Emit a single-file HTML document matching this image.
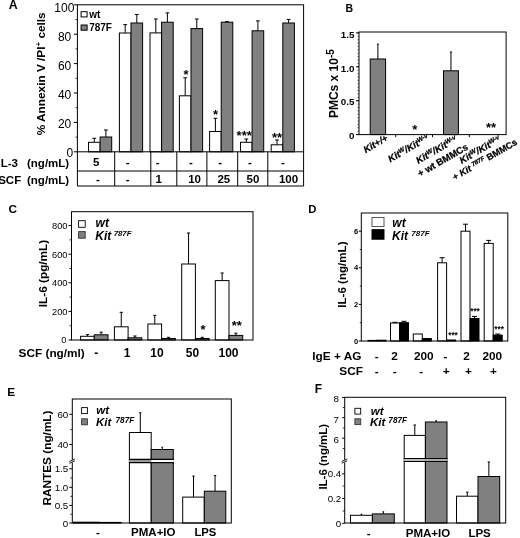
<!DOCTYPE html>
<html><head><meta charset="utf-8"><title>Figure</title>
<style>
html,body{margin:0;padding:0;background:#fff;}
body{width:520px;height:538px;overflow:hidden;font-family:"Liberation Sans",sans-serif;}
svg{display:block;will-change:transform;}
svg text{font-family:"Liberation Sans",sans-serif;}
</style></head><body>
<svg width="520" height="538" viewBox="0 0 520 538" shape-rendering="auto">
<rect x="0" y="0" width="520" height="538" fill="#fff"/>
<line x1="94.30" y1="138.30" x2="94.30" y2="142.30" stroke="#000" stroke-width="1"/>
<line x1="92.40" y1="138.30" x2="96.20" y2="138.30" stroke="#000" stroke-width="1"/>
<rect x="88.50" y="142.30" width="11.60" height="9.50" fill="#fff" stroke="#000" stroke-width="1"/>
<line x1="105.90" y1="130.00" x2="105.90" y2="137.00" stroke="#000" stroke-width="1"/>
<line x1="104.00" y1="130.00" x2="107.80" y2="130.00" stroke="#000" stroke-width="1"/>
<rect x="100.10" y="137.00" width="11.60" height="14.80" fill="#808080" stroke="#000" stroke-width="1"/>
<line x1="125.20" y1="24.60" x2="125.20" y2="33.00" stroke="#000" stroke-width="1"/>
<line x1="123.30" y1="24.60" x2="127.10" y2="24.60" stroke="#000" stroke-width="1"/>
<rect x="119.40" y="33.00" width="11.60" height="118.80" fill="#fff" stroke="#000" stroke-width="1"/>
<line x1="136.80" y1="14.50" x2="136.80" y2="23.00" stroke="#000" stroke-width="1"/>
<line x1="134.90" y1="14.50" x2="138.70" y2="14.50" stroke="#000" stroke-width="1"/>
<rect x="131.00" y="23.00" width="11.60" height="128.80" fill="#808080" stroke="#000" stroke-width="1"/>
<line x1="155.80" y1="19.00" x2="155.80" y2="32.90" stroke="#000" stroke-width="1"/>
<line x1="153.90" y1="19.00" x2="157.70" y2="19.00" stroke="#000" stroke-width="1"/>
<rect x="150.00" y="32.90" width="11.60" height="118.90" fill="#fff" stroke="#000" stroke-width="1"/>
<line x1="167.40" y1="12.90" x2="167.40" y2="22.20" stroke="#000" stroke-width="1"/>
<line x1="165.50" y1="12.90" x2="169.30" y2="12.90" stroke="#000" stroke-width="1"/>
<rect x="161.60" y="22.20" width="11.60" height="129.60" fill="#808080" stroke="#000" stroke-width="1"/>
<line x1="185.20" y1="77.80" x2="185.20" y2="95.80" stroke="#000" stroke-width="1"/>
<line x1="183.30" y1="77.80" x2="187.10" y2="77.80" stroke="#000" stroke-width="1"/>
<rect x="179.40" y="95.80" width="11.60" height="56.00" fill="#fff" stroke="#000" stroke-width="1"/>
<line x1="196.80" y1="19.00" x2="196.80" y2="28.60" stroke="#000" stroke-width="1"/>
<line x1="194.90" y1="19.00" x2="198.70" y2="19.00" stroke="#000" stroke-width="1"/>
<rect x="191.00" y="28.60" width="11.60" height="123.20" fill="#808080" stroke="#000" stroke-width="1"/>
<line x1="215.40" y1="118.30" x2="215.40" y2="131.50" stroke="#000" stroke-width="1"/>
<line x1="213.50" y1="118.30" x2="217.30" y2="118.30" stroke="#000" stroke-width="1"/>
<rect x="209.60" y="131.50" width="11.60" height="20.30" fill="#fff" stroke="#000" stroke-width="1"/>
<line x1="227.00" y1="21.50" x2="227.00" y2="22.20" stroke="#000" stroke-width="1"/>
<line x1="225.10" y1="21.50" x2="228.90" y2="21.50" stroke="#000" stroke-width="1"/>
<rect x="221.20" y="22.20" width="11.60" height="129.60" fill="#808080" stroke="#000" stroke-width="1"/>
<line x1="246.30" y1="139.00" x2="246.30" y2="142.30" stroke="#000" stroke-width="1"/>
<line x1="244.40" y1="139.00" x2="248.20" y2="139.00" stroke="#000" stroke-width="1"/>
<rect x="240.50" y="142.30" width="11.60" height="9.50" fill="#fff" stroke="#000" stroke-width="1"/>
<line x1="257.90" y1="20.90" x2="257.90" y2="30.80" stroke="#000" stroke-width="1"/>
<line x1="256.00" y1="20.90" x2="259.80" y2="20.90" stroke="#000" stroke-width="1"/>
<rect x="252.10" y="30.80" width="11.60" height="121.00" fill="#808080" stroke="#000" stroke-width="1"/>
<line x1="277.00" y1="140.00" x2="277.00" y2="144.80" stroke="#000" stroke-width="1"/>
<line x1="275.10" y1="140.00" x2="278.90" y2="140.00" stroke="#000" stroke-width="1"/>
<rect x="271.20" y="144.80" width="11.60" height="7.00" fill="#fff" stroke="#000" stroke-width="1"/>
<line x1="288.60" y1="19.40" x2="288.60" y2="23.00" stroke="#000" stroke-width="1"/>
<line x1="286.70" y1="19.40" x2="290.50" y2="19.40" stroke="#000" stroke-width="1"/>
<rect x="282.80" y="23.00" width="11.60" height="128.80" fill="#808080" stroke="#000" stroke-width="1"/>
<rect x="77.40" y="4.80" width="226.20" height="147.00" fill="none" stroke="#000" stroke-width="1"/>
<line x1="73.90" y1="151.80" x2="77.40" y2="151.80" stroke="#000" stroke-width="1"/>
<text x="73.20" y="156.70" font-size="12" text-anchor="end" fill="#000" >0</text>
<line x1="73.90" y1="122.40" x2="77.40" y2="122.40" stroke="#000" stroke-width="1"/>
<text x="71.30" y="127.66" font-size="12" text-anchor="end" fill="#000" >20</text>
<line x1="73.90" y1="93.00" x2="77.40" y2="93.00" stroke="#000" stroke-width="1"/>
<text x="71.30" y="98.62" font-size="12" text-anchor="end" fill="#000" >40</text>
<line x1="73.90" y1="63.60" x2="77.40" y2="63.60" stroke="#000" stroke-width="1"/>
<text x="71.30" y="69.58" font-size="12" text-anchor="end" fill="#000" >60</text>
<line x1="73.90" y1="34.20" x2="77.40" y2="34.20" stroke="#000" stroke-width="1"/>
<text x="71.30" y="40.54" font-size="12" text-anchor="end" fill="#000" >80</text>
<line x1="73.90" y1="4.80" x2="77.40" y2="4.80" stroke="#000" stroke-width="1"/>
<text x="74.40" y="11.50" font-size="12" text-anchor="end" fill="#000" >100</text>
<line x1="75.60" y1="137.10" x2="77.40" y2="137.10" stroke="#000" stroke-width="0.8"/>
<line x1="75.60" y1="107.70" x2="77.40" y2="107.70" stroke="#000" stroke-width="0.8"/>
<line x1="75.60" y1="78.30" x2="77.40" y2="78.30" stroke="#000" stroke-width="0.8"/>
<line x1="75.60" y1="48.90" x2="77.40" y2="48.90" stroke="#000" stroke-width="0.8"/>
<line x1="75.60" y1="19.50" x2="77.40" y2="19.50" stroke="#000" stroke-width="0.8"/>
<rect x="81.10" y="11.70" width="6.00" height="5.20" fill="#fff" stroke="#000" stroke-width="1"/>
<text x="89.20" y="17.70" font-size="10" font-weight="bold" text-anchor="start" fill="#000" >wt</text>
<rect x="81.10" y="25.00" width="6.00" height="5.20" fill="#808080" stroke="#000" stroke-width="1"/>
<text x="89.20" y="31.10" font-size="10" font-weight="bold" text-anchor="start" fill="#000" >787F</text>
<text x="45.30" y="73.80" font-size="11.8" font-weight="bold" text-anchor="middle" fill="#000" transform="rotate(-90 45.30 73.80)" >% Annexin V /PI<tspan font-size="8" dy="-3.8">+</tspan><tspan dy="3.8"> cells</tspan></text>
<text x="186.00" y="79.00" font-size="13" font-weight="bold" text-anchor="middle" fill="#000" >*</text>
<text x="215.50" y="118.50" font-size="13" font-weight="bold" text-anchor="middle" fill="#000" >*</text>
<text x="244.20" y="140.00" font-size="13" font-weight="bold" text-anchor="middle" fill="#000" >***</text>
<text x="277.00" y="141.80" font-size="13" font-weight="bold" text-anchor="middle" fill="#000" >**</text>
<line x1="77.40" y1="151.80" x2="77.40" y2="186.00" stroke="#000" stroke-width="1"/>
<line x1="114.70" y1="151.80" x2="114.70" y2="186.00" stroke="#000" stroke-width="1"/>
<line x1="150.80" y1="151.80" x2="150.80" y2="186.00" stroke="#000" stroke-width="1"/>
<line x1="176.80" y1="151.80" x2="176.80" y2="186.00" stroke="#000" stroke-width="1"/>
<line x1="206.90" y1="151.80" x2="206.90" y2="186.00" stroke="#000" stroke-width="1"/>
<line x1="237.70" y1="151.80" x2="237.70" y2="186.00" stroke="#000" stroke-width="1"/>
<line x1="267.80" y1="151.80" x2="267.80" y2="186.00" stroke="#000" stroke-width="1"/>
<line x1="303.60" y1="151.80" x2="303.60" y2="186.00" stroke="#000" stroke-width="1"/>
<line x1="77.40" y1="171.00" x2="303.60" y2="171.00" stroke="#000" stroke-width="1"/>
<line x1="77.40" y1="186.00" x2="303.60" y2="186.00" stroke="#000" stroke-width="1"/>
<text x="-2.50" y="166.60" font-size="11.5" font-weight="bold" text-anchor="start" fill="#000" >IL-3</text>
<text x="27.00" y="166.60" font-size="11.5" font-weight="bold" text-anchor="start" fill="#000" >(ng/mL)</text>
<text x="-1.80" y="183.50" font-size="11.5" font-weight="bold" text-anchor="start" fill="#000" >SCF</text>
<text x="27.00" y="183.50" font-size="11.5" font-weight="bold" text-anchor="start" fill="#000" >(ng/mL)</text>
<text x="96.30" y="166.30" font-size="11.5" font-weight="bold" text-anchor="middle" fill="#000" >5</text>
<text x="127.70" y="166.30" font-size="11.5" font-weight="bold" text-anchor="middle" fill="#000" >-</text>
<text x="157.70" y="166.30" font-size="11.5" font-weight="bold" text-anchor="middle" fill="#000" >-</text>
<text x="191.00" y="166.30" font-size="11.5" font-weight="bold" text-anchor="middle" fill="#000" >-</text>
<text x="220.20" y="166.30" font-size="11.5" font-weight="bold" text-anchor="middle" fill="#000" >-</text>
<text x="250.00" y="166.30" font-size="11.5" font-weight="bold" text-anchor="middle" fill="#000" >-</text>
<text x="283.00" y="166.30" font-size="11.5" font-weight="bold" text-anchor="middle" fill="#000" >-</text>
<text x="97.80" y="183.20" font-size="11.5" font-weight="bold" text-anchor="middle" fill="#000" >-</text>
<text x="127.70" y="183.20" font-size="11.5" font-weight="bold" text-anchor="middle" fill="#000" >-</text>
<text x="158.60" y="183.20" font-size="11.5" font-weight="bold" text-anchor="middle" fill="#000" >1</text>
<text x="194.60" y="183.20" font-size="11.5" font-weight="bold" text-anchor="middle" fill="#000" >10</text>
<text x="223.80" y="183.20" font-size="11.5" font-weight="bold" text-anchor="middle" fill="#000" >25</text>
<text x="253.00" y="183.20" font-size="11.5" font-weight="bold" text-anchor="middle" fill="#000" >50</text>
<text x="288.50" y="183.20" font-size="11.5" font-weight="bold" text-anchor="middle" fill="#000" >100</text>
<text x="8.80" y="9.30" font-size="12.3" font-weight="bold" text-anchor="start" fill="#000" >A</text>
<line x1="377.90" y1="44.20" x2="377.90" y2="59.00" stroke="#000" stroke-width="1"/>
<line x1="376.90" y1="44.20" x2="378.90" y2="44.20" stroke="#000" stroke-width="1"/>
<rect x="370.20" y="59.00" width="15.40" height="75.60" fill="#808080" stroke="#000" stroke-width="1"/>
<line x1="450.95" y1="52.00" x2="450.95" y2="70.80" stroke="#000" stroke-width="1"/>
<line x1="449.95" y1="52.00" x2="451.95" y2="52.00" stroke="#000" stroke-width="1"/>
<rect x="443.50" y="70.80" width="14.90" height="63.80" fill="#808080" stroke="#000" stroke-width="1"/>
<rect x="359.00" y="32.00" width="147.10" height="102.60" fill="none" stroke="#000" stroke-width="1"/>
<line x1="356.00" y1="134.60" x2="359.00" y2="134.60" stroke="#000" stroke-width="1"/>
<text x="354.40" y="139.30" font-size="9.8" font-weight="bold" text-anchor="end" fill="#000" >0</text>
<line x1="356.00" y1="100.70" x2="359.00" y2="100.70" stroke="#000" stroke-width="1"/>
<text x="354.40" y="105.40" font-size="9.8" font-weight="bold" text-anchor="end" fill="#000" >0.5</text>
<line x1="356.00" y1="66.80" x2="359.00" y2="66.80" stroke="#000" stroke-width="1"/>
<text x="354.40" y="71.50" font-size="9.8" font-weight="bold" text-anchor="end" fill="#000" >1.0</text>
<line x1="356.00" y1="32.90" x2="359.00" y2="32.90" stroke="#000" stroke-width="1"/>
<text x="354.40" y="37.60" font-size="9.8" font-weight="bold" text-anchor="end" fill="#000" >1.5</text>
<line x1="357.50" y1="134.60" x2="359.00" y2="134.60" stroke="#000" stroke-width="0.6"/>
<line x1="357.50" y1="131.21" x2="359.00" y2="131.21" stroke="#000" stroke-width="0.6"/>
<line x1="357.50" y1="127.82" x2="359.00" y2="127.82" stroke="#000" stroke-width="0.6"/>
<line x1="357.50" y1="124.43" x2="359.00" y2="124.43" stroke="#000" stroke-width="0.6"/>
<line x1="357.50" y1="121.04" x2="359.00" y2="121.04" stroke="#000" stroke-width="0.6"/>
<line x1="357.50" y1="117.65" x2="359.00" y2="117.65" stroke="#000" stroke-width="0.6"/>
<line x1="357.50" y1="114.26" x2="359.00" y2="114.26" stroke="#000" stroke-width="0.6"/>
<line x1="357.50" y1="110.87" x2="359.00" y2="110.87" stroke="#000" stroke-width="0.6"/>
<line x1="357.50" y1="107.48" x2="359.00" y2="107.48" stroke="#000" stroke-width="0.6"/>
<line x1="357.50" y1="104.09" x2="359.00" y2="104.09" stroke="#000" stroke-width="0.6"/>
<line x1="357.50" y1="100.70" x2="359.00" y2="100.70" stroke="#000" stroke-width="0.6"/>
<line x1="357.50" y1="97.31" x2="359.00" y2="97.31" stroke="#000" stroke-width="0.6"/>
<line x1="357.50" y1="93.92" x2="359.00" y2="93.92" stroke="#000" stroke-width="0.6"/>
<line x1="357.50" y1="90.53" x2="359.00" y2="90.53" stroke="#000" stroke-width="0.6"/>
<line x1="357.50" y1="87.14" x2="359.00" y2="87.14" stroke="#000" stroke-width="0.6"/>
<line x1="357.50" y1="83.75" x2="359.00" y2="83.75" stroke="#000" stroke-width="0.6"/>
<line x1="357.50" y1="80.36" x2="359.00" y2="80.36" stroke="#000" stroke-width="0.6"/>
<line x1="357.50" y1="76.97" x2="359.00" y2="76.97" stroke="#000" stroke-width="0.6"/>
<line x1="357.50" y1="73.58" x2="359.00" y2="73.58" stroke="#000" stroke-width="0.6"/>
<line x1="357.50" y1="70.19" x2="359.00" y2="70.19" stroke="#000" stroke-width="0.6"/>
<line x1="357.50" y1="66.80" x2="359.00" y2="66.80" stroke="#000" stroke-width="0.6"/>
<line x1="357.50" y1="63.41" x2="359.00" y2="63.41" stroke="#000" stroke-width="0.6"/>
<line x1="357.50" y1="60.02" x2="359.00" y2="60.02" stroke="#000" stroke-width="0.6"/>
<line x1="357.50" y1="56.63" x2="359.00" y2="56.63" stroke="#000" stroke-width="0.6"/>
<line x1="357.50" y1="53.24" x2="359.00" y2="53.24" stroke="#000" stroke-width="0.6"/>
<line x1="357.50" y1="49.85" x2="359.00" y2="49.85" stroke="#000" stroke-width="0.6"/>
<line x1="357.50" y1="46.46" x2="359.00" y2="46.46" stroke="#000" stroke-width="0.6"/>
<line x1="357.50" y1="43.07" x2="359.00" y2="43.07" stroke="#000" stroke-width="0.6"/>
<line x1="357.50" y1="39.68" x2="359.00" y2="39.68" stroke="#000" stroke-width="0.6"/>
<line x1="357.50" y1="36.29" x2="359.00" y2="36.29" stroke="#000" stroke-width="0.6"/>
<line x1="357.50" y1="32.90" x2="359.00" y2="32.90" stroke="#000" stroke-width="0.6"/>
<line x1="395.70" y1="134.60" x2="395.70" y2="137.10" stroke="#000" stroke-width="1"/>
<line x1="432.50" y1="134.60" x2="432.50" y2="137.10" stroke="#000" stroke-width="1"/>
<line x1="469.30" y1="134.60" x2="469.30" y2="137.10" stroke="#000" stroke-width="1"/>
<text x="337.80" y="83.60" font-size="12" font-weight="bold" text-anchor="middle" fill="#000" transform="rotate(-90 337.80 83.60)" >PMCs x 10<tspan font-size="10" dy="-4">-5</tspan></text>
<text x="414.90" y="133.80" font-size="13" font-weight="bold" text-anchor="middle" fill="#000" >*</text>
<text x="491.00" y="131.50" font-size="13" font-weight="bold" text-anchor="middle" fill="#000" >**</text>
<text x="388.50" y="140.00" font-size="9.5" font-weight="bold" font-style="italic" text-anchor="end" fill="#000" transform="rotate(-30 388.50 140.00)" stroke="#000" stroke-width="0.25">Kit+/+</text>
<text x="430.00" y="139.50" font-size="9.5" font-weight="bold" font-style="italic" text-anchor="end" fill="#000" transform="rotate(-30 430.00 139.50)" stroke="#000" stroke-width="0.25">Kit<tspan font-size="6.5" dy="-3">W</tspan><tspan dy="3">/Kit</tspan><tspan font-size="6.5" dy="-3">W-v</tspan></text>
<text x="458.00" y="141.00" font-size="9.5" font-weight="bold" font-style="italic" text-anchor="end" fill="#000" transform="rotate(-30 458.00 141.00)" stroke="#000" stroke-width="0.25">Kit<tspan font-size="6.5" dy="-3">W</tspan><tspan dy="3">/Kit</tspan><tspan font-size="6.5" dy="-3">W-v</tspan></text>
<text x="468.80" y="148.90" font-size="9.5" font-weight="bold" text-anchor="end" fill="#000" transform="rotate(-30 468.80 148.90)" stroke="#000" stroke-width="0.25">+ wt BMMCs</text>
<text x="501.50" y="141.00" font-size="9.5" font-weight="bold" font-style="italic" text-anchor="end" fill="#000" transform="rotate(-30 501.50 141.00)" stroke="#000" stroke-width="0.25">Kit<tspan font-size="6.5" dy="-3">W</tspan><tspan dy="3">/Kit</tspan><tspan font-size="6.5" dy="-3">W-v</tspan></text>
<text x="518.00" y="144.00" font-size="9.2" font-weight="bold" text-anchor="end" fill="#000" transform="rotate(-30 518.00 144.00)" stroke="#000" stroke-width="0.25">+ <tspan font-style="italic">Kit </tspan><tspan font-style="italic" font-size="6.2" dy="-3">787F</tspan><tspan dy="3"> BMMCs</tspan></text>
<text x="345.50" y="11.50" font-size="10.5" font-weight="bold" text-anchor="start" fill="#000" >B</text>
<line x1="87.45" y1="334.60" x2="87.45" y2="336.30" stroke="#000" stroke-width="1"/>
<line x1="85.85" y1="334.60" x2="89.05" y2="334.60" stroke="#000" stroke-width="1"/>
<rect x="80.60" y="336.30" width="13.70" height="3.70" fill="#fff" stroke="#000" stroke-width="1"/>
<line x1="101.15" y1="332.20" x2="101.15" y2="334.80" stroke="#000" stroke-width="1"/>
<line x1="99.55" y1="332.20" x2="102.75" y2="332.20" stroke="#000" stroke-width="1"/>
<rect x="94.30" y="334.80" width="13.70" height="5.20" fill="#808080" stroke="#000" stroke-width="1"/>
<line x1="121.25" y1="312.30" x2="121.25" y2="326.80" stroke="#000" stroke-width="1"/>
<line x1="119.65" y1="312.30" x2="122.85" y2="312.30" stroke="#000" stroke-width="1"/>
<rect x="114.40" y="326.80" width="13.70" height="13.20" fill="#fff" stroke="#000" stroke-width="1"/>
<line x1="134.95" y1="336.00" x2="134.95" y2="337.80" stroke="#000" stroke-width="1"/>
<line x1="133.35" y1="336.00" x2="136.55" y2="336.00" stroke="#000" stroke-width="1"/>
<rect x="128.10" y="337.80" width="13.70" height="2.20" fill="#808080" stroke="#000" stroke-width="1"/>
<line x1="154.75" y1="315.40" x2="154.75" y2="324.00" stroke="#000" stroke-width="1"/>
<line x1="153.15" y1="315.40" x2="156.35" y2="315.40" stroke="#000" stroke-width="1"/>
<rect x="147.90" y="324.00" width="13.70" height="16.00" fill="#fff" stroke="#000" stroke-width="1"/>
<line x1="168.45" y1="337.30" x2="168.45" y2="338.50" stroke="#000" stroke-width="1"/>
<line x1="166.85" y1="337.30" x2="170.05" y2="337.30" stroke="#000" stroke-width="1"/>
<rect x="161.60" y="338.50" width="13.70" height="1.50" fill="#808080" stroke="#000" stroke-width="1"/>
<line x1="188.55" y1="233.00" x2="188.55" y2="264.00" stroke="#000" stroke-width="1"/>
<line x1="186.95" y1="233.00" x2="190.15" y2="233.00" stroke="#000" stroke-width="1"/>
<rect x="181.70" y="264.00" width="13.70" height="76.00" fill="#fff" stroke="#000" stroke-width="1"/>
<line x1="202.25" y1="337.30" x2="202.25" y2="338.50" stroke="#000" stroke-width="1"/>
<line x1="200.65" y1="337.30" x2="203.85" y2="337.30" stroke="#000" stroke-width="1"/>
<rect x="195.40" y="338.50" width="13.70" height="1.50" fill="#808080" stroke="#000" stroke-width="1"/>
<line x1="222.15" y1="273.00" x2="222.15" y2="280.60" stroke="#000" stroke-width="1"/>
<line x1="220.55" y1="273.00" x2="223.75" y2="273.00" stroke="#000" stroke-width="1"/>
<rect x="215.30" y="280.60" width="13.70" height="59.40" fill="#fff" stroke="#000" stroke-width="1"/>
<line x1="235.85" y1="333.20" x2="235.85" y2="335.40" stroke="#000" stroke-width="1"/>
<line x1="234.25" y1="333.20" x2="237.45" y2="333.20" stroke="#000" stroke-width="1"/>
<rect x="229.00" y="335.40" width="13.70" height="4.60" fill="#808080" stroke="#000" stroke-width="1"/>
<rect x="71.50" y="211.70" width="181.50" height="128.30" fill="none" stroke="#000" stroke-width="1"/>
<line x1="68.50" y1="340.00" x2="71.50" y2="340.00" stroke="#000" stroke-width="1"/>
<text x="66.30" y="343.30" font-size="9.3" text-anchor="end" fill="#000" >0</text>
<line x1="68.50" y1="311.40" x2="71.50" y2="311.40" stroke="#000" stroke-width="1"/>
<text x="67.50" y="314.70" font-size="9.3" text-anchor="end" fill="#000" >200</text>
<line x1="68.50" y1="282.80" x2="71.50" y2="282.80" stroke="#000" stroke-width="1"/>
<text x="67.50" y="286.10" font-size="9.3" text-anchor="end" fill="#000" >400</text>
<line x1="68.50" y1="254.20" x2="71.50" y2="254.20" stroke="#000" stroke-width="1"/>
<text x="67.50" y="257.50" font-size="9.3" text-anchor="end" fill="#000" >600</text>
<line x1="68.50" y1="225.60" x2="71.50" y2="225.60" stroke="#000" stroke-width="1"/>
<text x="67.50" y="228.90" font-size="9.3" text-anchor="end" fill="#000" >800</text>
<line x1="69.50" y1="325.70" x2="71.50" y2="325.70" stroke="#000" stroke-width="0.8"/>
<line x1="69.50" y1="297.10" x2="71.50" y2="297.10" stroke="#000" stroke-width="0.8"/>
<line x1="69.50" y1="268.50" x2="71.50" y2="268.50" stroke="#000" stroke-width="0.8"/>
<line x1="69.50" y1="239.90" x2="71.50" y2="239.90" stroke="#000" stroke-width="0.8"/>
<rect x="78.60" y="220.70" width="6.60" height="6.60" fill="#fff" stroke="#000" stroke-width="0.9"/>
<rect x="78.60" y="231.60" width="6.60" height="6.60" fill="#808080" stroke="#333" stroke-width="0.9"/>
<text x="95.60" y="227.00" font-size="12" font-weight="bold" font-style="italic" text-anchor="start" fill="#000" >wt</text>
<text x="95.30" y="240.00" font-size="12" font-weight="bold" font-style="italic" text-anchor="start" fill="#000" >Kit <tspan font-size="7.8" dy="-4" dx="-1">787F</tspan></text>
<text x="46.50" y="273.50" font-size="11.8" font-weight="bold" text-anchor="middle" fill="#000" transform="rotate(-90 46.50 273.50)" >IL-6 (pg/mL)</text>
<text x="18.60" y="357.00" font-size="11.8" font-weight="bold" text-anchor="start" fill="#000" >SCF (ng/ml)</text>
<text x="96.30" y="357.10" font-size="12" font-weight="bold" text-anchor="middle" fill="#000" >-</text>
<text x="127.20" y="357.10" font-size="12" font-weight="bold" text-anchor="middle" fill="#000" >1</text>
<text x="157.00" y="357.10" font-size="12" font-weight="bold" text-anchor="middle" fill="#000" >10</text>
<text x="192.50" y="357.10" font-size="12" font-weight="bold" text-anchor="middle" fill="#000" >50</text>
<text x="228.50" y="357.10" font-size="12" font-weight="bold" text-anchor="middle" fill="#000" >100</text>
<text x="203.00" y="334.40" font-size="13" font-weight="bold" text-anchor="middle" fill="#000" >*</text>
<text x="236.80" y="330.10" font-size="13" font-weight="bold" text-anchor="middle" fill="#000" >**</text>
<text x="8.60" y="213.20" font-size="11.8" font-weight="bold" text-anchor="start" fill="#000" >C</text>
<rect x="368.00" y="340.40" width="9.00" height="0.60" fill="#fff" stroke="#000" stroke-width="1"/>
<rect x="377.00" y="340.20" width="9.00" height="0.80" fill="#000" stroke="#000" stroke-width="1"/>
<line x1="395.00" y1="322.30" x2="395.00" y2="323.00" stroke="#000" stroke-width="1"/>
<line x1="392.50" y1="322.30" x2="397.50" y2="322.30" stroke="#000" stroke-width="1"/>
<rect x="390.50" y="323.00" width="9.00" height="18.00" fill="#fff" stroke="#000" stroke-width="1"/>
<line x1="404.00" y1="321.30" x2="404.00" y2="322.70" stroke="#000" stroke-width="1"/>
<line x1="401.50" y1="321.30" x2="406.50" y2="321.30" stroke="#000" stroke-width="1"/>
<rect x="399.50" y="322.70" width="9.00" height="18.30" fill="#000" stroke="#000" stroke-width="1"/>
<rect x="413.30" y="334.00" width="9.00" height="7.00" fill="#fff" stroke="#000" stroke-width="1"/>
<rect x="422.30" y="338.50" width="9.00" height="2.50" fill="#000" stroke="#000" stroke-width="1"/>
<line x1="442.10" y1="257.70" x2="442.10" y2="262.80" stroke="#000" stroke-width="1"/>
<line x1="439.60" y1="257.70" x2="444.60" y2="257.70" stroke="#000" stroke-width="1"/>
<rect x="437.60" y="262.80" width="9.00" height="78.20" fill="#fff" stroke="#000" stroke-width="1"/>
<rect x="446.60" y="340.00" width="9.00" height="1.00" fill="#000" stroke="#000" stroke-width="1"/>
<line x1="465.50" y1="224.20" x2="465.50" y2="231.20" stroke="#000" stroke-width="1"/>
<line x1="463.00" y1="224.20" x2="468.00" y2="224.20" stroke="#000" stroke-width="1"/>
<rect x="461.00" y="231.20" width="9.00" height="109.80" fill="#fff" stroke="#000" stroke-width="1"/>
<line x1="474.50" y1="316.40" x2="474.50" y2="318.50" stroke="#000" stroke-width="1"/>
<line x1="472.00" y1="316.40" x2="477.00" y2="316.40" stroke="#000" stroke-width="1"/>
<rect x="470.00" y="318.50" width="9.00" height="22.50" fill="#000" stroke="#000" stroke-width="1"/>
<line x1="488.70" y1="240.40" x2="488.70" y2="243.40" stroke="#000" stroke-width="1"/>
<line x1="486.20" y1="240.40" x2="491.20" y2="240.40" stroke="#000" stroke-width="1"/>
<rect x="484.20" y="243.40" width="9.00" height="97.60" fill="#fff" stroke="#000" stroke-width="1"/>
<line x1="497.70" y1="334.00" x2="497.70" y2="335.10" stroke="#000" stroke-width="1"/>
<line x1="495.20" y1="334.00" x2="500.20" y2="334.00" stroke="#000" stroke-width="1"/>
<rect x="493.20" y="335.10" width="9.00" height="5.90" fill="#000" stroke="#000" stroke-width="1"/>
<rect x="361.30" y="213.00" width="146.50" height="128.00" fill="none" stroke="#000" stroke-width="1"/>
<line x1="358.80" y1="341.00" x2="361.30" y2="341.00" stroke="#000" stroke-width="1"/>
<text x="358.10" y="343.60" font-size="7.5" font-weight="bold" text-anchor="end" fill="#000" >0</text>
<line x1="358.80" y1="304.40" x2="361.30" y2="304.40" stroke="#000" stroke-width="1"/>
<text x="358.10" y="307.00" font-size="7.5" font-weight="bold" text-anchor="end" fill="#000" >2</text>
<line x1="358.80" y1="267.80" x2="361.30" y2="267.80" stroke="#000" stroke-width="1"/>
<text x="358.10" y="270.40" font-size="7.5" font-weight="bold" text-anchor="end" fill="#000" >4</text>
<line x1="358.80" y1="231.20" x2="361.30" y2="231.20" stroke="#000" stroke-width="1"/>
<text x="358.10" y="233.80" font-size="7.5" font-weight="bold" text-anchor="end" fill="#000" >6</text>
<line x1="359.80" y1="322.70" x2="361.30" y2="322.70" stroke="#000" stroke-width="0.8"/>
<line x1="359.80" y1="286.10" x2="361.30" y2="286.10" stroke="#000" stroke-width="0.8"/>
<line x1="359.80" y1="249.50" x2="361.30" y2="249.50" stroke="#000" stroke-width="0.8"/>
<rect x="372.00" y="217.50" width="12.00" height="9.00" fill="#fff" stroke="#555" stroke-width="1"/>
<rect x="372.00" y="229.70" width="12.00" height="9.50" fill="#000" stroke="#000" stroke-width="1"/>
<text x="392.30" y="226.50" font-size="12" font-weight="bold" font-style="italic" text-anchor="start" fill="#000" >wt</text>
<text x="392.00" y="240.00" font-size="12" font-weight="bold" font-style="italic" text-anchor="start" fill="#000" >Kit <tspan font-size="8" dy="-4">787F</tspan></text>
<text x="346.00" y="274.60" font-size="11.6" font-weight="bold" text-anchor="middle" fill="#000" transform="rotate(-90 346.00 274.60)" >IL-6 (ng/mL)</text>
<text x="312.30" y="359.70" font-size="11.8" font-weight="bold" text-anchor="start" fill="#000" >IgE + AG</text>
<text x="339.30" y="374.70" font-size="11.8" font-weight="bold" text-anchor="start" fill="#000" >SCF</text>
<text x="376.60" y="359.70" font-size="11.8" font-weight="bold" text-anchor="middle" fill="#000" >-</text>
<text x="394.60" y="359.70" font-size="11.8" font-weight="bold" text-anchor="middle" fill="#000" >2</text>
<text x="423.80" y="359.70" font-size="11.8" font-weight="bold" text-anchor="middle" fill="#000" >200</text>
<text x="445.50" y="359.70" font-size="11.8" font-weight="bold" text-anchor="middle" fill="#000" >-</text>
<text x="466.50" y="359.70" font-size="11.8" font-weight="bold" text-anchor="middle" fill="#000" >2</text>
<text x="492.30" y="359.70" font-size="11.8" font-weight="bold" text-anchor="middle" fill="#000" >200</text>
<text x="376.60" y="374.70" font-size="11.8" font-weight="bold" text-anchor="middle" fill="#000" >-</text>
<text x="394.60" y="374.70" font-size="11.8" font-weight="bold" text-anchor="middle" fill="#000" >-</text>
<text x="421.20" y="374.70" font-size="11.8" font-weight="bold" text-anchor="middle" fill="#000" >-</text>
<text x="446.20" y="374.70" font-size="11.8" font-weight="bold" text-anchor="middle" fill="#000" >+</text>
<text x="468.50" y="374.70" font-size="11.8" font-weight="bold" text-anchor="middle" fill="#000" >+</text>
<text x="493.50" y="374.70" font-size="11.8" font-weight="bold" text-anchor="middle" fill="#000" >+</text>
<text x="453.00" y="337.80" font-size="8.3" font-weight="bold" text-anchor="middle" fill="#000" >***</text>
<text x="475.00" y="314.00" font-size="8.3" font-weight="bold" text-anchor="middle" fill="#000" >***</text>
<text x="499.20" y="331.80" font-size="8.3" font-weight="bold" text-anchor="middle" fill="#000" >***</text>
<text x="308.30" y="212.80" font-size="11.3" font-weight="bold" text-anchor="start" fill="#000" >D</text>
<rect x="73.50" y="522.20" width="25.50" height="0.80" fill="#fff" stroke="#000" stroke-width="1"/>
<rect x="99.00" y="522.40" width="22.00" height="0.60" fill="#808080" stroke="#000" stroke-width="1"/>
<line x1="140.30" y1="412.80" x2="140.30" y2="432.50" stroke="#000" stroke-width="1"/>
<line x1="139.10" y1="412.80" x2="141.50" y2="412.80" stroke="#000" stroke-width="1"/>
<rect x="129.40" y="432.50" width="21.80" height="90.50" fill="#fff" stroke="#000" stroke-width="1"/>
<line x1="162.25" y1="447.30" x2="162.25" y2="449.50" stroke="#000" stroke-width="1"/>
<line x1="161.45" y1="447.30" x2="163.05" y2="447.30" stroke="#000" stroke-width="1"/>
<rect x="151.20" y="449.50" width="22.10" height="73.50" fill="#808080" stroke="#000" stroke-width="1"/>
<line x1="193.50" y1="476.10" x2="193.50" y2="497.10" stroke="#000" stroke-width="1"/>
<line x1="192.30" y1="476.10" x2="194.70" y2="476.10" stroke="#000" stroke-width="1"/>
<rect x="182.70" y="497.10" width="21.60" height="25.90" fill="#fff" stroke="#000" stroke-width="1"/>
<line x1="215.05" y1="475.60" x2="215.05" y2="491.20" stroke="#000" stroke-width="1"/>
<line x1="213.85" y1="475.60" x2="216.25" y2="475.60" stroke="#000" stroke-width="1"/>
<rect x="204.30" y="491.20" width="21.50" height="31.80" fill="#808080" stroke="#000" stroke-width="1"/>
<rect x="128.9" y="459.8" width="22.3" height="2.3" fill="#999"/>
<rect x="151.2" y="459.8" width="22.6" height="2.3" fill="#fff"/>
<line x1="128.90" y1="459.30" x2="173.80" y2="459.30" stroke="#000" stroke-width="1.2"/>
<line x1="128.90" y1="462.60" x2="173.80" y2="462.60" stroke="#000" stroke-width="1.2"/>
<rect x="72.30" y="399.00" width="159.00" height="124.00" fill="none" stroke="#000" stroke-width="1"/>
<rect x="69.80" y="460.00" width="5" height="2.6" fill="#fff"/>
<line x1="69.30" y1="461.50" x2="74.90" y2="459.10" stroke="#000" stroke-width="0.9"/>
<line x1="69.30" y1="463.30" x2="74.90" y2="460.90" stroke="#000" stroke-width="0.9"/>
<line x1="69.30" y1="414.30" x2="72.30" y2="414.30" stroke="#000" stroke-width="1"/>
<text x="68.30" y="417.80" font-size="9.8" text-anchor="end" fill="#000" >60</text>
<line x1="69.30" y1="444.40" x2="72.30" y2="444.40" stroke="#000" stroke-width="1"/>
<text x="68.30" y="447.90" font-size="9.8" text-anchor="end" fill="#000" >40</text>
<line x1="69.30" y1="468.80" x2="72.30" y2="468.80" stroke="#000" stroke-width="1"/>
<text x="68.30" y="472.30" font-size="9.8" text-anchor="end" fill="#000" >1.5</text>
<line x1="69.30" y1="487.30" x2="72.30" y2="487.30" stroke="#000" stroke-width="1"/>
<text x="68.30" y="490.80" font-size="9.8" text-anchor="end" fill="#000" >1.0</text>
<line x1="69.30" y1="505.40" x2="72.30" y2="505.40" stroke="#000" stroke-width="1"/>
<text x="68.30" y="508.90" font-size="9.8" text-anchor="end" fill="#000" >0.5</text>
<line x1="69.30" y1="523.00" x2="72.30" y2="523.00" stroke="#000" stroke-width="1"/>
<text x="68.30" y="526.50" font-size="9.8" text-anchor="end" fill="#000" >0</text>
<line x1="70.30" y1="429.60" x2="72.30" y2="429.60" stroke="#000" stroke-width="0.8"/>
<line x1="70.30" y1="478.00" x2="72.30" y2="478.00" stroke="#000" stroke-width="0.8"/>
<line x1="70.30" y1="496.30" x2="72.30" y2="496.30" stroke="#000" stroke-width="0.8"/>
<line x1="70.30" y1="514.20" x2="72.30" y2="514.20" stroke="#000" stroke-width="0.8"/>
<rect x="81.60" y="407.60" width="5.80" height="6.00" fill="#fff" stroke="#000" stroke-width="0.9"/>
<rect x="81.60" y="418.80" width="5.80" height="6.00" fill="#808080" stroke="#333" stroke-width="0.9"/>
<text x="96.30" y="414.20" font-size="11.5" font-weight="bold" font-style="italic" text-anchor="start" fill="#000" >wt</text>
<text x="96.00" y="425.90" font-size="11.5" font-weight="bold" font-style="italic" text-anchor="start" fill="#000" >Kit <tspan font-size="8.2" dy="-3" dx="1">787F</tspan></text>
<text x="50.80" y="458.00" font-size="11.8" font-weight="bold" text-anchor="middle" fill="#000" transform="rotate(-90 50.80 458.00)" >RANTES (ng/mL)</text>
<text x="98.00" y="536.20" font-size="11.5" font-weight="bold" text-anchor="middle" fill="#000" >-</text>
<text x="153.30" y="535.50" font-size="11.5" font-weight="bold" text-anchor="middle" fill="#000" >PMA+IO</text>
<text x="205.40" y="535.50" font-size="11.3" font-weight="bold" text-anchor="middle" fill="#000" >LPS</text>
<text x="7.30" y="395.50" font-size="11.8" font-weight="bold" text-anchor="start" fill="#000" >E</text>
<line x1="361.45" y1="514.20" x2="361.45" y2="515.30" stroke="#000" stroke-width="1"/>
<line x1="360.65" y1="514.20" x2="362.25" y2="514.20" stroke="#000" stroke-width="1"/>
<rect x="350.50" y="515.30" width="21.90" height="7.70" fill="#fff" stroke="#000" stroke-width="1"/>
<line x1="383.35" y1="511.80" x2="383.35" y2="513.90" stroke="#000" stroke-width="1"/>
<line x1="382.55" y1="511.80" x2="384.15" y2="511.80" stroke="#000" stroke-width="1"/>
<rect x="372.40" y="513.90" width="21.90" height="9.10" fill="#808080" stroke="#000" stroke-width="1"/>
<line x1="414.80" y1="425.00" x2="414.80" y2="435.40" stroke="#000" stroke-width="1"/>
<line x1="413.60" y1="425.00" x2="416.00" y2="425.00" stroke="#000" stroke-width="1"/>
<rect x="404.20" y="435.40" width="21.20" height="87.60" fill="#fff" stroke="#000" stroke-width="1"/>
<line x1="436.20" y1="420.80" x2="436.20" y2="422.00" stroke="#000" stroke-width="1"/>
<line x1="435.40" y1="420.80" x2="437.00" y2="420.80" stroke="#000" stroke-width="1"/>
<rect x="425.40" y="422.00" width="21.60" height="101.00" fill="#808080" stroke="#000" stroke-width="1"/>
<line x1="467.25" y1="492.20" x2="467.25" y2="496.20" stroke="#000" stroke-width="1"/>
<line x1="466.05" y1="492.20" x2="468.45" y2="492.20" stroke="#000" stroke-width="1"/>
<rect x="456.50" y="496.20" width="21.50" height="26.80" fill="#fff" stroke="#000" stroke-width="1"/>
<line x1="488.85" y1="462.00" x2="488.85" y2="476.50" stroke="#000" stroke-width="1"/>
<line x1="487.65" y1="462.00" x2="490.05" y2="462.00" stroke="#000" stroke-width="1"/>
<rect x="478.00" y="476.50" width="21.70" height="46.50" fill="#808080" stroke="#000" stroke-width="1"/>
<rect x="403.7" y="459.2" width="43.8" height="1.6" fill="#fff"/>
<line x1="403.70" y1="458.70" x2="447.50" y2="458.70" stroke="#000" stroke-width="1.2"/>
<line x1="403.70" y1="461.30" x2="447.50" y2="461.30" stroke="#000" stroke-width="1.2"/>
<rect x="344.70" y="397.30" width="161.00" height="125.70" fill="none" stroke="#000" stroke-width="1"/>
<rect x="342.20" y="459.90" width="5" height="2.6" fill="#fff"/>
<line x1="341.70" y1="461.40" x2="347.30" y2="459.00" stroke="#000" stroke-width="0.9"/>
<line x1="341.70" y1="463.20" x2="347.30" y2="460.80" stroke="#000" stroke-width="0.9"/>
<line x1="342.20" y1="397.50" x2="344.70" y2="397.50" stroke="#000" stroke-width="1"/>
<text x="338.90" y="401.80" font-size="9.7" text-anchor="end" fill="#000" >8</text>
<line x1="342.20" y1="417.70" x2="344.70" y2="417.70" stroke="#000" stroke-width="1"/>
<text x="338.90" y="422.70" font-size="9.7" text-anchor="end" fill="#000" >7</text>
<line x1="342.20" y1="438.20" x2="344.70" y2="438.20" stroke="#000" stroke-width="1"/>
<text x="338.90" y="443.40" font-size="9.7" text-anchor="end" fill="#000" >6</text>
<line x1="342.20" y1="473.80" x2="344.70" y2="473.80" stroke="#000" stroke-width="1"/>
<text x="341.10" y="477.20" font-size="9.7" text-anchor="end" fill="#000" >0.4</text>
<line x1="342.20" y1="498.50" x2="344.70" y2="498.50" stroke="#000" stroke-width="1"/>
<text x="341.10" y="501.90" font-size="9.7" text-anchor="end" fill="#000" >0.2</text>
<line x1="342.20" y1="523.30" x2="344.70" y2="523.30" stroke="#000" stroke-width="1"/>
<text x="341.10" y="526.70" font-size="9.7" text-anchor="end" fill="#000" >0</text>
<line x1="342.70" y1="407.60" x2="344.70" y2="407.60" stroke="#000" stroke-width="0.8"/>
<line x1="342.70" y1="428.00" x2="344.70" y2="428.00" stroke="#000" stroke-width="0.8"/>
<line x1="342.70" y1="448.50" x2="344.70" y2="448.50" stroke="#000" stroke-width="0.8"/>
<line x1="342.70" y1="486.00" x2="344.70" y2="486.00" stroke="#000" stroke-width="0.8"/>
<line x1="342.70" y1="511.00" x2="344.70" y2="511.00" stroke="#000" stroke-width="0.8"/>
<rect x="354.90" y="408.30" width="5.80" height="5.80" fill="#fff" stroke="#000" stroke-width="0.9"/>
<rect x="354.90" y="418.80" width="5.80" height="5.80" fill="#808080" stroke="#333" stroke-width="0.9"/>
<text x="370.80" y="414.50" font-size="11.5" font-weight="bold" font-style="italic" text-anchor="start" fill="#000" >wt</text>
<text x="370.00" y="425.90" font-size="11.5" font-weight="bold" font-style="italic" text-anchor="start" fill="#000" >Kit <tspan font-size="8.2" dy="-3" dx="-0.2">787F</tspan></text>
<text x="326.80" y="456.70" font-size="11.5" font-weight="bold" text-anchor="middle" fill="#000" transform="rotate(-90 326.80 456.70)" >IL-6 (ng/mL)</text>
<text x="368.70" y="536.50" font-size="11.5" font-weight="bold" text-anchor="middle" fill="#000" >-</text>
<text x="428.00" y="537.00" font-size="11.5" font-weight="bold" text-anchor="middle" fill="#000" >PMA+IO</text>
<text x="479.60" y="537.00" font-size="11.5" font-weight="bold" text-anchor="middle" fill="#000" >LPS</text>
<text x="314.80" y="392.80" font-size="12" font-weight="bold" text-anchor="start" fill="#000" >F</text>
</svg>
</body></html>
